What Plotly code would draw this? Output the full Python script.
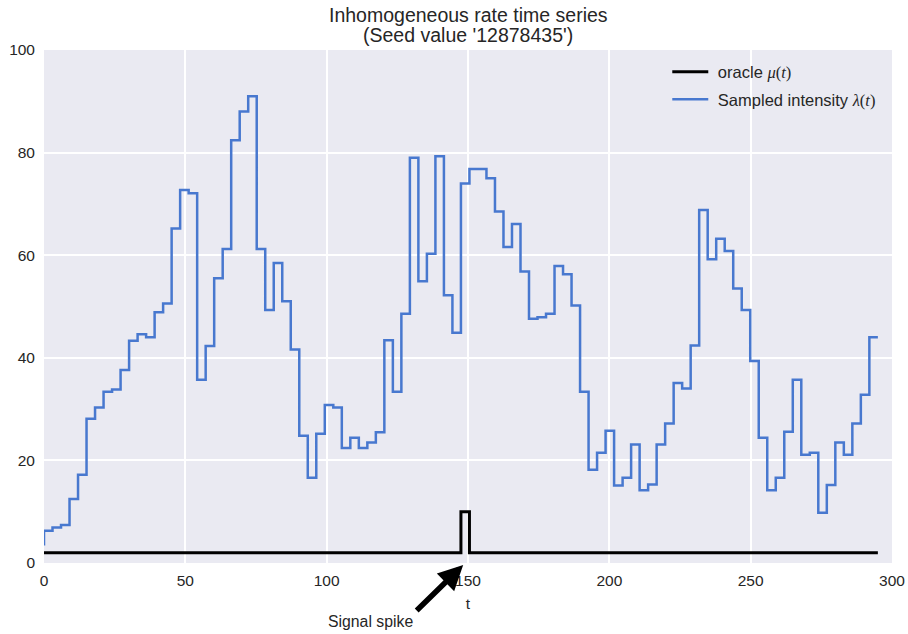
import numpy as np
import plotly.graph_objects as go

# Time grid: 99 sample instants over the observation window
t_end = 295.0
n_points = 99
t = np.linspace(0.0, t_end, n_points)

# Sampled intensity lambda(t) at each instant (step, value held on the preceding interval)
intensity = [
    3.4, 6.3, 6.9, 7.4, 12.5, 17.2, 28.1, 30.3, 33.4, 33.8,
    37.6, 43.3, 44.6, 44.0, 48.9, 50.6, 65.2, 72.7, 72.1, 35.7,
    42.3, 55.5, 61.2, 82.4, 88.0, 91.0, 61.2, 49.3, 58.5, 51.0,
    41.6, 24.8, 16.6, 25.2, 30.8, 30.3, 22.4, 24.4, 22.4, 23.5,
    25.5, 43.4, 33.4, 48.6, 79.0, 54.9, 60.3, 79.3, 52.2, 44.9,
    74.0, 76.8, 76.8, 75.0, 68.5, 61.6, 66.1, 56.8, 47.6, 47.9,
    48.6, 57.9, 56.3, 50.2, 33.4, 18.2, 21.5, 25.8, 15.1, 16.6,
    23.1, 14.2, 15.3, 23.1, 27.2, 35.1, 34.0, 42.4, 68.8, 59.2,
    63.2, 60.8, 53.5, 49.3, 39.4, 24.4, 14.2, 16.6, 25.6, 35.7,
    21.1, 21.5, 9.8, 15.2, 23.5, 21.1, 27.2, 32.8, 44.0,
]

# Oracle rate mu(t): flat baseline with one spike interval
baseline = 2.0
spike_level = 10.0
spike_index = 50
oracle = [baseline] * n_points
oracle[spike_index] = spike_level

title_lines = ["Inhomogeneous rate time series", "(Seed value '12878435')"]
x_ticks = [0, 50, 100, 150, 200, 250, 300]
y_ticks = [0, 20, 40, 60, 80, 100]

TEXT = "#262626"
BG = "#EAEAF2"
BLUE = "#4878CF"
FONT = "Liberation Sans, Arial, sans-serif"
MATH = "font-family:'Liberation Serif', 'DejaVu Serif', serif"

fig = go.Figure()
fig.add_trace(go.Scatter(
    x=t, y=oracle, mode="lines", line=dict(color="black", width=3, shape="vh"),
    name=f"&nbsp;oracle <span style=\"{MATH}\"><i>μ</i>(<i>t</i>)</span>",
    legendgroup="oracle",
))
fig.add_trace(go.Scatter(
    x=t, y=intensity, mode="lines", line=dict(color=BLUE, width=2.5, shape="vh"),
    name=f"&nbsp;Sampled intensity <span style=\"{MATH}\"><i>λ</i>(<i>t</i>)</span>",
    legendgroup="sampled",
))

# Two-line title, centred over the plotting area
fig.add_annotation(text=title_lines[0], xref="paper", yref="paper", x=0.5, y=1.069,
                   showarrow=False, yanchor="middle", font=dict(size=19.5, color=TEXT))
fig.add_annotation(text=title_lines[1], xref="paper", yref="paper", x=0.5, y=1.030,
                   showarrow=False, yanchor="middle", font=dict(size=19.5, color=TEXT))

# Spike marker: arrow pointing at the axis just below the spike, label beneath
fig.add_annotation(x=148.3, y=-0.004, xref="x", yref="paper", text="", showarrow=True,
                   ax=-48, ay=47, arrowhead=2, arrowsize=0.9, arrowwidth=5.5,
                   arrowcolor="black", standoff=0)
fig.add_annotation(x=115.5, y=-0.115, xref="x", yref="paper", text="Signal spike",
                   showarrow=False, yanchor="middle", font=dict(size=15.8, color=TEXT))

fig.update_layout(
    width=908, height=634,
    margin=dict(l=44, r=16, t=50, b=71, autoexpand=False),
    paper_bgcolor="white", plot_bgcolor=BG,
    font=dict(family=FONT, size=15.5, color=TEXT),
    showlegend=True,
    legend=dict(x=0.735, y=0.991, xanchor="left", yanchor="top",
                bgcolor="rgba(0,0,0,0)", borderwidth=0,
                font=dict(size=16.5, color=TEXT), itemwidth=36,
                tracegroupgap=3),
)
fig.update_xaxes(range=[0, 300], tickvals=x_ticks, showgrid=True, gridcolor="white",
                 gridwidth=1.6, zeroline=False, showline=False, ticks="",
                 ticklabelstandoff=6, tickfont=dict(size=15.5),
                 title=dict(text="t", standoff=10, font=dict(size=15.5, color=TEXT)))
fig.update_yaxes(range=[0, 100], tickvals=y_ticks, showgrid=True, gridcolor="white",
                 gridwidth=1.6, zeroline=False, showline=False, ticks="",
                 ticklabelstandoff=8, tickfont=dict(size=15.5))

fig.write_html("out.html")
